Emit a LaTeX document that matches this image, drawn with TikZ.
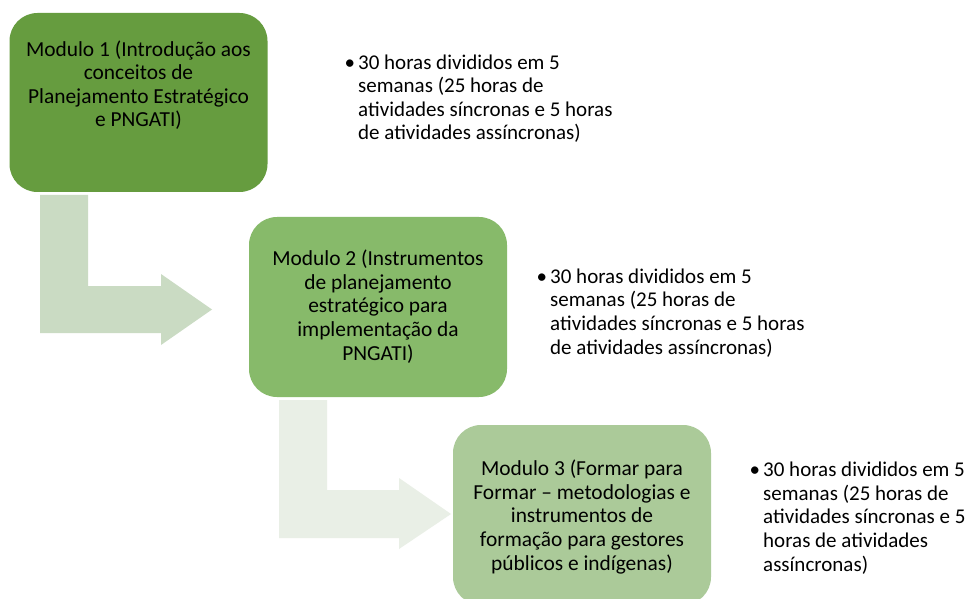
\documentclass[tikz,border=0pt]{standalone}
\usepackage{fontspec}
\setmainfont{Carlito}
\usetikzlibrary{positioning}
\definecolor{modA}{HTML}{669C3F}
\definecolor{modB}{HTML}{87BA6A}
\definecolor{modC}{HTML}{ABCA99}
\definecolor{arrA}{HTML}{CADBC3}
\definecolor{arrB}{HTML}{E9EFE6}

\tikzset{
    modbox/.style={rounded corners=28pt, minimum width=258pt, minimum height=180pt, inner sep=0pt},
    modtext/.style={align=center, inner sep=0pt, anchor=base, font=\fontsize{21.4}{23.6}\selectfont},
    infotext/.style={align=left, inner sep=0pt, anchor=base west, font=\fontsize{21}{23.6}\selectfont},
}

\begin{document}
\begin{tikzpicture}[x=1pt, y=-1pt]
    % Fix the frame of the picture
    \clip (0,0) rectangle (970,599);
    \fill[white] (0,0) rectangle (970,599);

    % Bent arrows between the modules
    \fill[arrA] (40,195) -- (88,195) -- (88,286) -- (161,286) -- (161,274) -- (212,309.5)
        -- (161,345) -- (161,333) -- (40,333) -- cycle;
    \fill[arrB] (279,400) -- (327,400) -- (327,490) -- (399,490) -- (399,478) -- (451,514)
        -- (399,549) -- (399,538) -- (279,538) -- cycle;

    % Module boxes
    \node[modbox, fill=modA, minimum height=179pt] (M1) at (138.5,102.5) {};
    \node[modbox, fill=modB] (M2) at (378,307) {};
    \node[modbox, fill=modC] (M3) at (582,515) {};

    % Module titles (placed by the baseline of their last line)
    \node[modtext] (T1) at (138.5,127) {Modulo 1 (Introdução aos\\conceitos de\\Planejamento Estratégico\\e PNGATI)};
    \node[modtext] (T2) at (378,360) {Modulo 2 (Instrumentos\\de planejamento\\estratégico para\\implementação da\\PNGATI)};
    \node[modtext] (T3) at (582,570) {Modulo 3 (Formar para\\Formar – metodologias e\\instrumentos de\\formação para gestores\\públicos e indígenas)};

    % Workload notes
    \node[infotext] (H1) at (358,140) {\llap{•\hspace{3pt}}30 horas divididos em 5\\semanas (25 horas de\\atividades síncronas e 5 horas\\de atividades assíncronas)};
    \node[infotext] (H2) at (550,354) {\llap{•\hspace{3pt}}30 horas divididos em 5\\semanas (25 horas de\\atividades síncronas e 5 horas\\de atividades assíncronas)};
    \node[infotext] (H3) at (763,571) {\llap{•\hspace{3pt}}30 horas divididos em 5\\semanas (25 horas de\\atividades síncronas e 5\\horas de atividades\\assíncronas)};
\end{tikzpicture}
\end{document}
